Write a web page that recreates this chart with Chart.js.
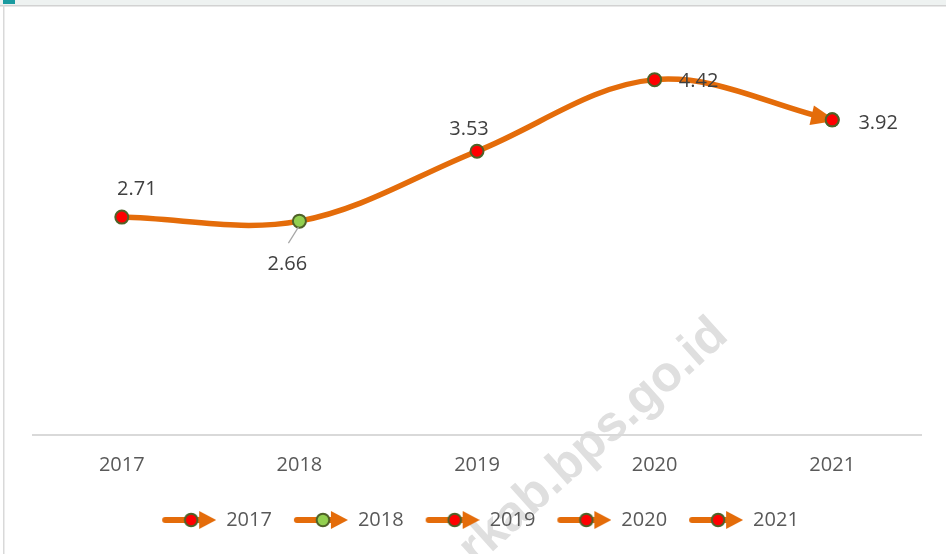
<!DOCTYPE html>
<html>
<head>
<meta charset="utf-8">
<script src="https://cdn.jsdelivr.net/npm/chart.js@4.4.1/dist/chart.umd.min.js"></script>
<style>
  html, body { margin: 0; padding: 0; background: #fff; }
  #wrap { width: 946px; height: 554px; }
</style>
</head>
<body>
<div id="wrap"><canvas id="chart" width="946" height="554"></canvas></div>
<script>
// data
const years = ['2017', '2018', '2019', '2020', '2021'];
const values = [2.71, 2.66, 3.53, 4.42, 3.92];
const yMin = 0;
const yMax = 5;

// styling
const ORANGE = '#e46c0a';
const MARKER_EDGE = '#4f6228';
const pointFills = ['#ff0000', '#92d050', '#ff0000', '#ff0000', '#ff0000'];
const labelOffsets = [[15, -28], [-12, 43], [-8, -22], [44, 2], [46, 3]];
const FONT = '"Open Sans", "Noto Sans", sans-serif';

// legend swatch: line + marker + arrow head, blank margin on the left
function legendSymbol(fill) {
  const c = document.createElement('canvas');
  c.width = 61;
  c.height = 20;
  const g = c.getContext('2d');
  g.translate(7, 0);
  g.strokeStyle = ORANGE;
  g.lineWidth = 6;
  g.lineCap = 'round';
  g.beginPath();
  g.moveTo(3, 10);
  g.lineTo(40, 10);
  g.stroke();
  g.fillStyle = ORANGE;
  g.beginPath();
  g.moveTo(37, 1);
  g.lineTo(54, 10);
  g.lineTo(37, 19);
  g.closePath();
  g.fill();
  g.beginPath();
  g.arc(29, 10, 6.3, 0, Math.PI * 2);
  g.fillStyle = fill;
  g.fill();
  g.lineWidth = 2;
  g.strokeStyle = MARKER_EDGE;
  g.stroke();
  return c;
}
const symbols = pointFills.map(legendSymbol);

const framePlugin = {
  id: 'frame',
  beforeDraw(chart) {
    const ctx = chart.ctx;
    ctx.save();
    ctx.fillStyle = '#ffffff';
    ctx.fillRect(0, 0, chart.width, chart.height);
    ctx.fillStyle = '#eef2f1';
    ctx.fillRect(0, 0, chart.width, 5);
    ctx.fillStyle = '#d2d2d2';
    ctx.fillRect(0, 5, chart.width, 1.5);
    ctx.fillStyle = '#d9d9d9';
    ctx.fillRect(3, 5, 1.5, chart.height);
    ctx.fillStyle = '#1a9ba0';
    ctx.fillRect(3, 0, 12, 4);
    // watermark
    ctx.translate(730, 338);
    ctx.rotate(-42 * Math.PI / 180);
    ctx.font = 'bold 50px "Liberation Sans", Arial, sans-serif';
    ctx.fillStyle = '#dfdfdf';
    ctx.textAlign = 'right';
    ctx.textBaseline = 'alphabetic';
    ctx.fillText('rkab.bps.go.id', 0, 0);
    ctx.restore();
  }
};

const arrowPlugin = {
  id: 'endArrow',
  afterDatasetsDraw(chart) {
    const meta = chart.getDatasetMeta(0);
    const last = meta.data[meta.data.length - 1];
    let dx = last.x - last.cp1x;
    let dy = last.y - last.cp1y;
    const len = Math.hypot(dx, dy) || 1;
    dx /= len; dy /= len;
    const tipX = last.x + dx * 4, tipY = last.y + dy * 4;
    const bx = tipX - dx * 25, by = tipY - dy * 25;
    const ctx = chart.ctx;
    ctx.save();
    ctx.fillStyle = ORANGE;
    ctx.beginPath();
    ctx.moveTo(tipX, tipY);
    ctx.lineTo(bx - dy * 10, by + dx * 10);
    ctx.lineTo(bx + dy * 10, by - dx * 10);
    ctx.closePath();
    ctx.fill();
    ctx.restore();
    last.draw(ctx, chart.chartArea);
  }
};

const labelPlugin = {
  id: 'valueLabels',
  afterDatasetsDraw(chart) {
    const meta = chart.getDatasetMeta(0);
    const ctx = chart.ctx;
    ctx.save();
    ctx.font = '20px ' + FONT;
    ctx.fillStyle = '#404040';
    ctx.textAlign = 'center';
    ctx.textBaseline = 'middle';
    meta.data.forEach((pt, i) => {
      const [ox, oy] = labelOffsets[i];
      const tx = pt.x + ox, ty = pt.y + oy;
      if (oy > 30) {
        ctx.strokeStyle = '#a6a6a6';
        ctx.lineWidth = 1.2;
        ctx.beginPath();
        ctx.moveTo(tx + 1, ty - 21);
        ctx.lineTo(pt.x - 1, pt.y + 6);
        ctx.stroke();
      }
      ctx.fillText(values[i].toFixed(2), tx, ty);
    });
    ctx.restore();
  }
};

const chart = new Chart(document.getElementById('chart'), {
  type: 'line',
  data: {
    labels: years,
    datasets: [{
      label: 'Nilai',
      data: values,
      borderColor: ORANGE,
      borderWidth: 5.5,
      borderCapStyle: 'round',
      tension: 0.35,
      pointRadius: 6.5,
      pointBorderWidth: 2,
      pointBackgroundColor: pointFills,
      pointBorderColor: MARKER_EDGE
    }]
  },
  options: {
    responsive: false,
    animation: false,
    layout: { padding: { left: 33, right: 25, top: 33, bottom: 14 } },
    scales: {
      x: {
        offset: true,
        grid: { display: false, drawTicks: false },
        border: { display: true, color: '#d9d9d9', width: 2 },
        ticks: { color: '#595959', font: { family: FONT, size: 20 }, padding: 18 }
      },
      y: { display: false, min: yMin, max: yMax }
    },
    plugins: {
      tooltip: { enabled: false },
      legend: {
        position: 'bottom',
        onClick: null,
        labels: {
          usePointStyle: true,
          pointStyleWidth: 61,
          padding: 15,
          color: '#595959',
          font: { family: FONT, size: 20 },
          generateLabels: () => years.map((y, i) => ({
            text: y,
            pointStyle: symbols[i],
            fillStyle: pointFills[i],
            strokeStyle: MARKER_EDGE,
            lineWidth: 0,
            fontColor: '#595959',
            hidden: false,
            index: i,
            datasetIndex: 0
          }))
        }
      }
    }
  },
  plugins: [framePlugin, arrowPlugin, labelPlugin]
});
</script>
</body>
</html>
